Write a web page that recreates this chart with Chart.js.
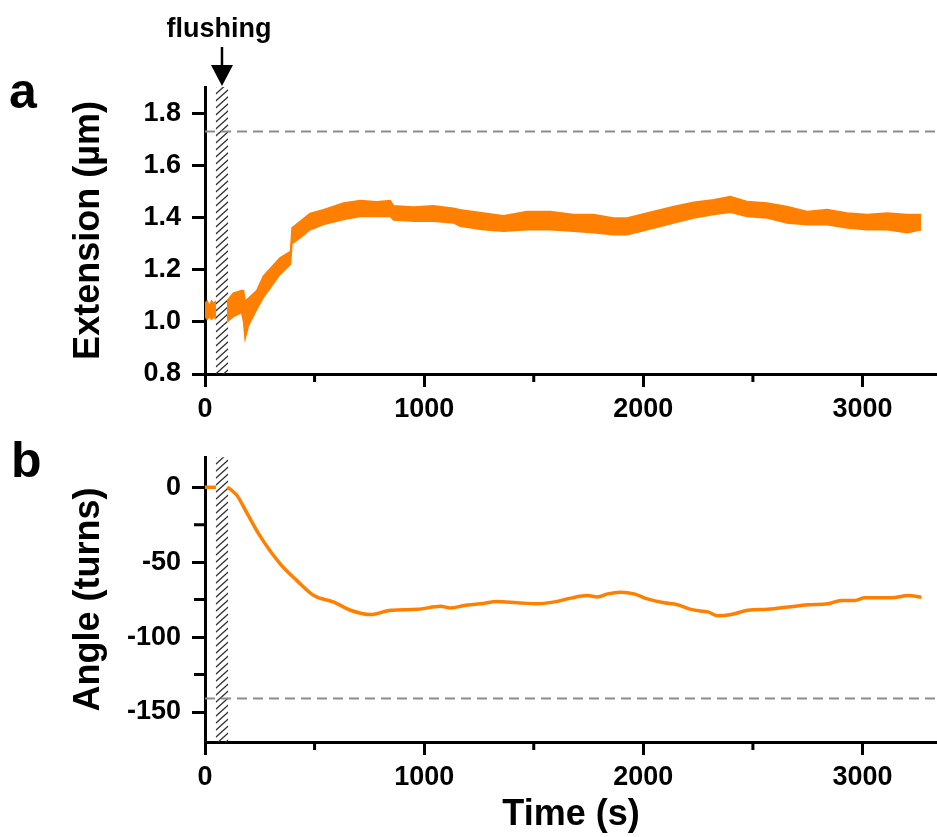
<!DOCTYPE html>
<html>
<head>
<meta charset="utf-8">
<script src="https://cdn.jsdelivr.net/npm/chart.js@4.4.1/dist/chart.umd.min.js"></script>
<style>
    html, body { margin: 0; padding: 0; background: #fff; }
    #wrap { position: relative; width: 937px; height: 837px; }
    canvas { position: absolute; left: 0; }
    #extChart { top: 0; }
    #angleChart { top: 430px; }
</style>
</head>
<body>
<div id="wrap">
    <canvas id="extChart" width="937" height="430"></canvas>
    <canvas id="angleChart" width="937" height="407"></canvas>
</div>
<script>
// Data (time in s)
const timeTicks = [0, 1000, 2000, 3000];
const timeMinorTicks = [500, 1500, 2500];
const extTicks = [0.8, 1.0, 1.2, 1.4, 1.6, 1.8];
const angleTicks = [-150, -100, -50, 0];
const angleMinorTicks = [-125, -75, -25];

const flushStart = 49;
const flushEnd = 106;
const extLimit = 1.729;
const angleLimit = -141;

// Extension trace is drawn as a noise band: upper and lower envelope
const preTime = [0, 10, 20, 30, 40, 50];
const preUpper = [1.07, 1.08, 1.06, 1.08, 1.07, 1.08];
const preLower = [1.02, 1.01, 1.02, 1.01, 1.02, 1.01];

const extTime = [100, 129, 167, 176, 183, 198, 236, 266, 304, 342,
    390, 397, 434, 479, 540, 632, 708, 784, 845, 860,
    951, 1042, 1134, 1164, 1271, 1362, 1469, 1575, 1682, 1773,
    1864, 1926, 2017, 2138, 2230, 2321, 2397, 2473, 2565, 2656,
    2747, 2839, 2930, 3021, 3113, 3204, 3268];
const extUpper = [1.08, 1.11, 1.12, 1.12, 1.08, 1.09, 1.12, 1.175, 1.21, 1.245,
    1.27, 1.36, 1.385, 1.415, 1.43, 1.455, 1.465, 1.46, 1.465, 1.445,
    1.44, 1.445, 1.435, 1.43, 1.417, 1.407, 1.423, 1.423, 1.411, 1.411,
    1.398, 1.398, 1.417, 1.442, 1.458, 1.468, 1.48, 1.461, 1.455, 1.442,
    1.423, 1.43, 1.417, 1.411, 1.417, 1.411, 1.411];
const extLower = [1.00, 1.02, 1.035, 1.00, 0.935, 0.985, 1.048, 1.093, 1.137, 1.182,
    1.22, 1.30, 1.322, 1.353, 1.373, 1.392, 1.404, 1.404, 1.405, 1.39,
    1.385, 1.385, 1.379, 1.366, 1.353, 1.347, 1.353, 1.353, 1.347, 1.341,
    1.334, 1.334, 1.353, 1.379, 1.398, 1.411, 1.42, 1.404, 1.398, 1.379,
    1.372, 1.372, 1.36, 1.353, 1.353, 1.341, 1.353];

const preAngleTime = [0, 25, 50];
const preAngle = [0, 0, 0];
const angleTime = [101, 124, 147, 193, 253, 345, 421, 497, 588, 664,
    756, 847, 969, 1075, 1121, 1182, 1258, 1334, 1426, 1517,
    1608, 1669, 1745, 1791, 1837, 1897, 1958, 2019, 2095, 2156,
    2218, 2272, 2295, 2340, 2401, 2477, 2568, 2660, 2751, 2842,
    2903, 2965, 3010, 3132, 3208, 3269];
const angleValue = [0, -2.4, -5.7, -17.7, -33, -51.5, -62.5, -72.3, -76.7, -82.1,
    -85, -82.1, -81.5, -79.5, -80.6, -78.9, -77.8, -76.2, -77.1, -77.8,
    -76.2, -74, -72.3, -73.2, -71.2, -70.1, -71.2, -74.5, -77.1, -78.4,
    -81.5, -82.8, -83.2, -85.8, -85, -82.1, -81.5, -80, -78.4, -77.8,
    -75.6, -75.6, -73.8, -73.8, -72.3, -73.4];

const X_MAX = 3340;
const ORANGE = "#ff8000";
const FONT = "'Liberation Sans', Arial, Helvetica, sans-serif";

Chart.defaults.color = "#000";
Chart.defaults.font.family = FONT;

function zip(xs, ys) {
    return xs.map((x, i) => ({ x: x, y: ys[i] }));
}

function axisStyle() {
    return {
        grid: { drawOnChartArea: false, drawTicks: true, tickLength: 13, tickWidth: 3, tickColor: "#000" },
        border: { display: true, width: 3, color: "#000" }
    };
}

function timeAxis(height, title) {
    return Object.assign(axisStyle(), {
        type: "linear",
        min: 0,
        max: X_MAX,
        afterBuildTicks: s => { s.ticks = timeTicks.map(v => ({ value: v })); },
        afterFit: s => { s.height = height; },
        ticks: {
            color: "#000", padding: 6, maxRotation: 0, autoSkip: false,
            font: { size: 27, weight: "bold" },
            callback: v => String(v)
        },
        title: title ? {
            display: true, text: title, color: "#000",
            font: { size: 36, weight: "bold" },
            padding: { top: 0, bottom: 0 }
        } : { display: false }
    });
}

function valueAxis(min, max, ticks, fmt, title) {
    return Object.assign(axisStyle(), {
        type: "linear",
        min: min,
        max: max,
        afterBuildTicks: s => { s.ticks = ticks.map(v => ({ value: v })); },
        afterFit: s => { s.width = 205; },
        ticks: {
            color: "#000", padding: 11, autoSkip: false,
            font: { size: 27, weight: "bold" },
            callback: fmt
        },
        title: {
            display: true, text: title, color: "#000",
            font: { size: 36, weight: "bold" },
            padding: { top: 67, bottom: 0 }
        }
    });
}

function lineSet(points, extra) {
    return Object.assign({
        data: points,
        borderColor: ORANGE,
        backgroundColor: ORANGE,
        borderWidth: 1.5,
        pointRadius: 0,
        fill: false,
        tension: 0
    }, extra || {});
}

function limitSet(value) {
    return lineSet([{ x: 0, y: value }, { x: X_MAX, y: value }], {
        borderColor: "#8c8c8c", borderWidth: 2, borderDash: [10, 6]
    });
}

// Hatched flushing window, minor ticks, panel letters
function decorPlugin(opts) {
    return {
        id: "decor",
        beforeDatasetsDraw(chart) {
            const { ctx, chartArea: { top, bottom }, scales: { x } } = chart;
            const x0 = x.getPixelForValue(flushStart);
            const x1 = x.getPixelForValue(flushEnd);
            const rise = (x1 - x0) * 0.9;
            ctx.save();
            ctx.beginPath();
            ctx.rect(x0, top, x1 - x0, bottom - top);
            ctx.clip();
            ctx.beginPath();
            ctx.strokeStyle = "#333";
            ctx.lineWidth = 1.3;
            for (let y = top; y <= bottom + rise; y += 7) {
                ctx.moveTo(x0, y);
                ctx.lineTo(x1, y - rise);
            }
            ctx.stroke();
            ctx.restore();
        },
        afterDraw(chart) {
            const { ctx, chartArea: { left, bottom }, scales: { x, y } } = chart;
            ctx.save();
            ctx.strokeStyle = "#000";
            ctx.lineWidth = 3;
            ctx.beginPath();
            timeMinorTicks.forEach(v => {
                const px = x.getPixelForValue(v);
                ctx.moveTo(px, bottom);
                ctx.lineTo(px, bottom + 8);
            });
            (opts.minorY || []).forEach(v => {
                const py = y.getPixelForValue(v);
                ctx.moveTo(left, py);
                ctx.lineTo(left - 11, py);
            });
            ctx.stroke();

            ctx.fillStyle = "#000";
            ctx.textBaseline = "alphabetic";
            ctx.textAlign = "left";
            ctx.font = "bold 50px " + FONT;
            ctx.fillText(opts.letter, opts.letterX, opts.letterY);

            if (opts.arrow) {
                const cx = (x.getPixelForValue(flushStart) + x.getPixelForValue(flushEnd)) / 2;
                ctx.lineWidth = 2.5;
                ctx.beginPath();
                ctx.moveTo(cx, 47);
                ctx.lineTo(cx, 67);
                ctx.stroke();
                ctx.beginPath();
                ctx.moveTo(cx - 11, 65);
                ctx.lineTo(cx + 11, 65);
                ctx.lineTo(cx, 86);
                ctx.closePath();
                ctx.fill();
                ctx.textAlign = "center";
                ctx.font = "bold 27px " + FONT;
                ctx.fillText("flushing", cx - 3, 37);
            }
            ctx.restore();
        }
    };
}

new Chart(document.getElementById("extChart"), {
    type: "line",
    data: {
        datasets: [
            lineSet(zip(preTime, preUpper), { fill: "+1" }),
            lineSet(zip(preTime, preLower)),
            lineSet(zip(extTime, extUpper), { fill: "+1" }),
            lineSet(zip(extTime, extLower)),
            limitSet(extLimit)
        ]
    },
    options: {
        responsive: false,
        animation: false,
        devicePixelRatio: 1,
        layout: { padding: { top: 87, left: 0, right: 0, bottom: 0 } },
        plugins: { legend: { display: false }, tooltip: { enabled: false } },
        scales: {
            x: timeAxis(56, null),
            y: valueAxis(0.8, 1.9, extTicks, v => v.toFixed(1), "Extension (\u00b5m)")
        }
    },
    plugins: [decorPlugin({ letter: "a", letterX: 9, letterY: 108, arrow: true })]
});

new Chart(document.getElementById("angleChart"), {
    type: "line",
    data: {
        datasets: [
            lineSet(zip(preAngleTime, preAngle), { borderWidth: 3.5 }),
            lineSet(zip(angleTime, angleValue), { borderWidth: 3.5, cubicInterpolationMode: "monotone" }),
            limitSet(angleLimit)
        ]
    },
    options: {
        responsive: false,
        animation: false,
        devicePixelRatio: 1,
        layout: { padding: { top: 23, left: 0, right: 0, bottom: 0 } },
        plugins: { legend: { display: false }, tooltip: { enabled: false } },
        scales: {
            x: timeAxis(95, "Time (s)"),
            y: valueAxis(-170, 20, angleTicks, v => String(v), "Angle (turns)")
        }
    },
    plugins: [decorPlugin({ letter: "b", letterX: 11, letterY: 47, minorY: angleMinorTicks })]
});
</script>
</body>
</html>
